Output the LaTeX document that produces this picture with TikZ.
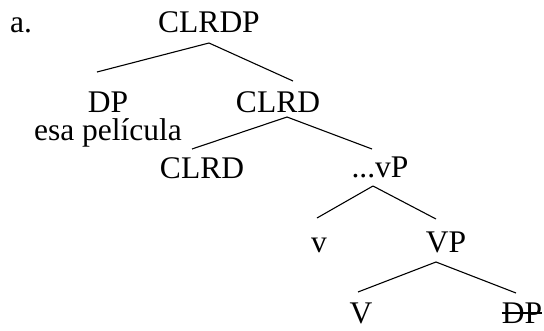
\documentclass[tikz,border=0pt]{standalone}
\usepackage{fontspec}
\setmainfont{Liberation Serif}
\begin{document}
\begin{tikzpicture}[x=1pt,y=-1pt,
  lbl/.style={anchor=base,inner sep=0pt,font=\fontsize{31.5}{31.5}\selectfont},
  branch/.style={line width=1.1pt}]
\useasboundingbox (0,0) rectangle (544,330);
% labels of the tree
\node[lbl] (ex)    at (21,32)   {a.};
\node[lbl] (root)  at (209,32)  {CLRDP};
\node[lbl] (dp)    at (108,112) {DP};
\node[lbl] (gloss) at (108,140) {esa película};
\node[lbl] (clrd)  at (278,112) {CLRD};
\node[lbl] (clrdh) at (202,178) {CLRD};
\node[lbl] (vp)    at (380,177) {...vP};
\node[lbl] (v)     at (319,252) {v};
\node[lbl] (VP)    at (446,252) {VP};
\node[lbl] (Vh)    at (361,323) {V};
\node[lbl] (dpc)   at (522,323) {DP};
% branches
\draw[branch] ([shift={(0,11)}]root.base) -- ([shift={(-11,-40)}]dp.base);
\draw[branch] ([shift={(0,11)}]root.base) -- ([shift={(15,-31)}]clrd.base);
\draw[branch] ([shift={(9,5)}]clrd.base) -- ([shift={(-10,-29)}]clrdh.base);
\draw[branch] ([shift={(9,5)}]clrd.base) -- ([shift={(-8,-28)}]vp.base);
\draw[branch] ([shift={(-7,9)}]vp.base) -- ([shift={(-2,-34)}]v.base);
\draw[branch] ([shift={(-7,9)}]vp.base) -- ([shift={(-10,-33)}]VP.base);
\draw[branch] ([shift={(-10,10)}]VP.base) -- ([shift={(-3,-31)}]Vh.base);
\draw[branch] ([shift={(-10,10)}]VP.base) -- ([shift={(-6,-30)}]dpc.base);
% deleted copy, struck through
\draw[line width=1.1pt] ([yshift=10pt]dpc.base west) -- ([yshift=10pt]dpc.base east);
\end{tikzpicture}
\end{document}
